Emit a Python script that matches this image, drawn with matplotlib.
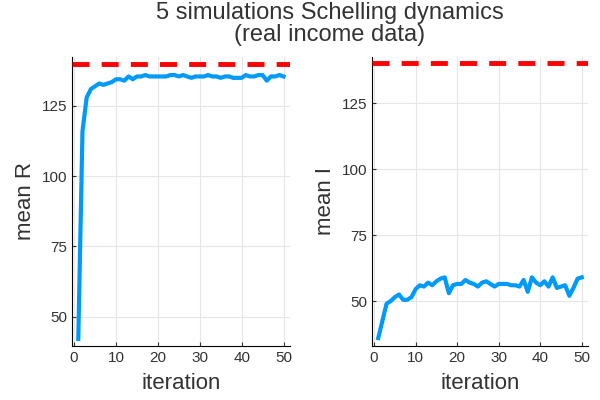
import matplotlib
matplotlib.use('Agg')
import matplotlib.pyplot as plt

plt.rcParams['font.family'] = ['Liberation Sans', 'DejaVu Sans']

iterations = list(range(1, 51))
mean_R = [42, 116, 128, 131, 132, 133, 132.5, 133, 133.5, 134.5, 134.5, 134, 135.5, 134.5, 135.5, 135.5, 136, 135.5,
          135.5, 135.5, 135.5, 135.5, 136, 136, 135.5, 136, 135.5, 135, 135.5, 135.5, 135.5, 136, 135.5, 135.5, 135,
          135.5, 135.5, 135, 135, 135, 136, 135.5, 135.5, 136, 136, 134, 135.5, 135.5, 136, 135.5]
mean_I = [36, 42.5, 49, 50, 51.5, 52.5, 50.5, 50.5, 51.5, 54.5, 56, 55.5, 57, 56, 57.5, 58.5, 59, 53, 56, 56.5,
          56.5, 58, 57, 56.5, 55.5, 57, 57.5, 56.5, 55.5, 56.5, 56.5, 56.5, 56, 56, 55.5, 58, 53.5, 59, 57, 56,
          57.5, 55.5, 59, 55, 55.5, 56, 52, 55, 58.5, 59]
ref_R = 140
ref_I = 140

blue = '#009AFA'
fig = plt.figure(figsize=(6, 4), dpi=100)
ax1 = fig.add_axes([0.12, 0.135, 0.363, 0.723])
ax2 = fig.add_axes([0.62, 0.135, 0.36, 0.723])

for ax, y, ref, lab, ylim in [(ax1, mean_R, ref_R, 'mean R', (39.5, 142.5)),
                              (ax2, mean_I, ref_I, 'mean I', (33, 142.5))]:
    ax.plot(iterations, y, color=blue, lw=3, zorder=3)
    ax.axhline(ref, color='red', lw=3.5, ls=(0, (3.5, 2.5)), zorder=4)
    ax.set_xlim(-0.5, 51.5)
    ax.set_ylim(*ylim)
    ax.set_xticks([0, 10, 20, 30, 40, 50])
    ax.set_yticks([50, 75, 100, 125])
    ax.grid(True, color='#e6e6e6', lw=0.8)
    for s in ['top', 'right']:
        ax.spines[s].set_visible(False)
    ax.tick_params(direction='in', labelsize=11, colors='#333333', length=3)
    ax.set_xlabel('iteration', fontsize=16, color='#333333', labelpad=6)
    ax.set_ylabel(lab, fontsize=16, color='#333333')

fig.suptitle('5 simulations Schelling dynamics\n(real income data)', fontsize=17,
             color='#333333', x=0.55, y=0.995, linespacing=1.0)
fig.savefig('out.png', dpi=100)
